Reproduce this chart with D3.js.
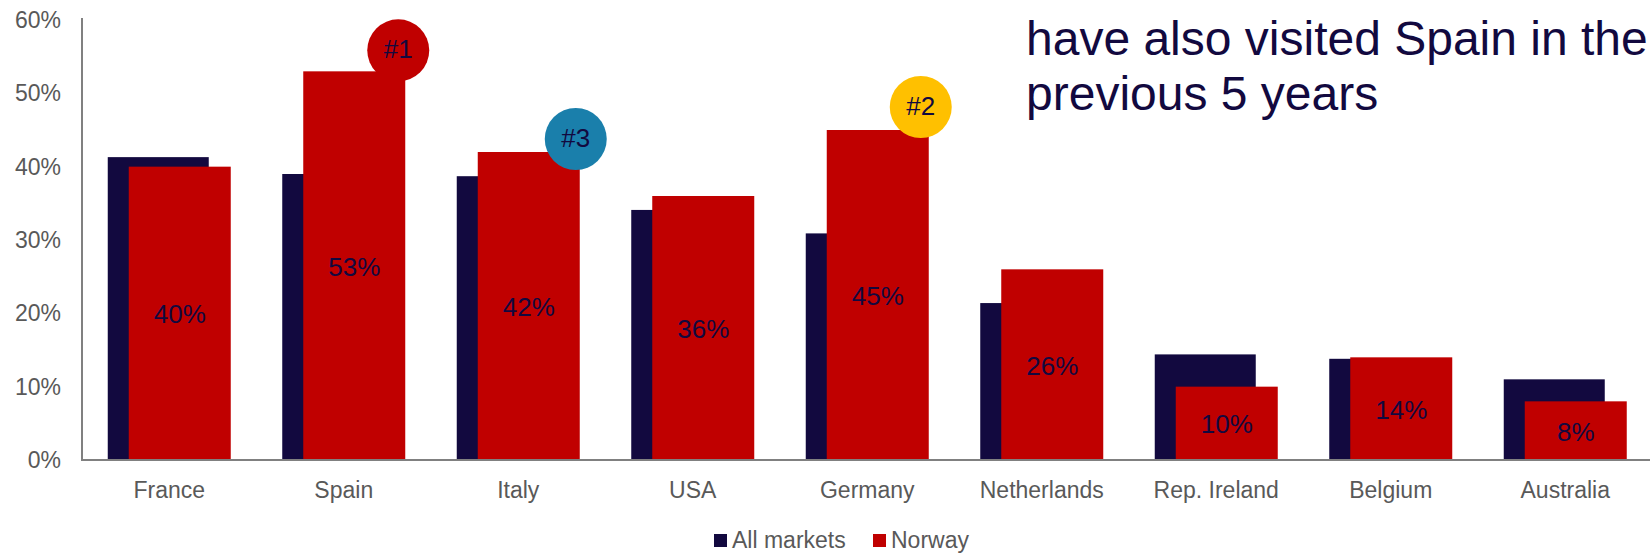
<!DOCTYPE html>
<html>
<head>
<meta charset="utf-8">
<script src="https://cdn.jsdelivr.net/npm/d3@7"></script>
<style>
  html, body { margin: 0; padding: 0; background: #ffffff; }
  svg { display: block; font-family: "Liberation Sans", Arial, sans-serif; }
</style>
</head>
<body>
<svg id="chart" width="1650" height="553"></svg>
<script>
// Destinations visited in the previous 5 years
const categories = ["France", "Spain", "Italy", "USA", "Germany", "Netherlands", "Rep. Ireland", "Belgium", "Australia"];
const allMarkets = [41.3, 39.0, 38.7, 34.1, 30.9, 21.4, 14.4, 13.8, 11.0];
const norway = [40, 53, 42, 36, 45, 26, 10, 14, 8];
const yTicks = [0, 10, 20, 30, 40, 50, 60];
const seriesNames = ["All markets", "Norway"];

// Ranking badges on the Norway bars
const rankCategories = ["Spain", "Germany", "Italy"];
const rankLabels = ["#1", "#2", "#3"];
const rankColors = ["#c00000", "#ffc000", "#1a7fab"];
const rankOffsets = [[-7, -21], [-8, -23], [-4, -13]];

const navy = "#12093f";
const red = "#c00000";
const grey = "#595959";
const axisGrey = "#808080";

const svg = d3.select("#chart");
const margin = { left: 82, right: 0, top: 20, bottom: 93 };
const W = 1650, H = 553;

const x = d3.scaleBand()
  .domain(categories)
  .range([margin.left, margin.left + 174.5 * categories.length])
  .paddingInner(0)
  .paddingOuter(0);

const y = d3.scaleLinear()
  .domain([0, 60])
  .range([H - margin.bottom, margin.top]);

const darkW = 101, redW = 102, shift = 21;
const groupW = shift + redW;
const groupX = c => x(c) + (x.bandwidth() - groupW) / 2;

// Y axis labels
const yAxis = d3.axisLeft(y)
  .tickValues(yTicks)
  .tickFormat(d => d + "%")
  .tickSize(0)
  .tickPadding(21);
const gy = svg.append("g")
  .attr("transform", `translate(${margin.left},0)`)
  .call(yAxis);
gy.select(".domain").remove();
gy.selectAll("text")
  .attr("fill", grey)
  .style("font-size", "23px")
  .style("font-family", "Liberation Sans, Arial, sans-serif");

// All markets bars (behind)
svg.append("g").selectAll("rect")
  .data(categories)
  .join("rect")
  .attr("x", c => groupX(c))
  .attr("width", darkW)
  .attr("y", (c, i) => y(allMarkets[i]))
  .attr("height", (c, i) => y(0) - y(allMarkets[i]))
  .attr("fill", navy);

// Norway bars (front)
svg.append("g").selectAll("rect")
  .data(categories)
  .join("rect")
  .attr("x", c => groupX(c) + shift)
  .attr("width", redW)
  .attr("y", (c, i) => y(norway[i]))
  .attr("height", (c, i) => y(0) - y(norway[i]))
  .attr("fill", red);

// Norway value labels, centred in each bar
svg.append("g").selectAll("text")
  .data(categories)
  .join("text")
  .attr("x", c => groupX(c) + shift + redW / 2)
  .attr("y", (c, i) => (y(norway[i]) + y(0)) / 2 + 3)
  .attr("text-anchor", "middle")
  .attr("dominant-baseline", "middle")
  .attr("fill", navy)
  .style("font-size", "26px")
  .text((c, i) => norway[i] + "%");

// Axis lines
svg.append("line")
  .attr("x1", margin.left).attr("x2", margin.left)
  .attr("y1", y(60) - 2).attr("y2", y(0) + 1)
  .attr("stroke", axisGrey).attr("stroke-width", 2);
svg.append("line")
  .attr("x1", margin.left - 1).attr("x2", W)
  .attr("y1", y(0)).attr("y2", y(0))
  .attr("stroke", axisGrey).attr("stroke-width", 2);

// Category labels
const xAxis = d3.axisBottom(x).tickSize(0).tickPadding(0);
const gx = svg.append("g")
  .attr("transform", `translate(0,${y(0)})`)
  .call(xAxis);
gx.select(".domain").remove();
gx.selectAll("text")
  .attr("dy", null)
  .attr("y", 38)
  .attr("fill", grey)
  .style("font-size", "23px")
  .style("font-family", "Liberation Sans, Arial, sans-serif");

// Ranking badges
const badges = svg.append("g").selectAll("g")
  .data(rankCategories)
  .join("g")
  .attr("transform", (c, i) => {
    const k = categories.indexOf(c);
    const cx = groupX(c) + shift + redW + rankOffsets[i][0];
    const cy = y(norway[k]) + rankOffsets[i][1];
    return `translate(${cx},${cy})`;
  });
badges.append("circle")
  .attr("r", 31)
  .attr("fill", (c, i) => rankColors[i]);
badges.append("text")
  .attr("text-anchor", "middle")
  .attr("dominant-baseline", "middle")
  .attr("y", 1)
  .attr("fill", navy)
  .style("font-size", "26px")
  .text((c, i) => rankLabels[i]);

// Headline text
const head = svg.append("text")
  .attr("x", 1026)
  .attr("fill", navy)
  .style("font-size", "48px");
head.append("tspan").attr("x", 1026).attr("y", 55).text("have also visited Spain in the");
head.append("tspan").attr("x", 1026).attr("y", 110).text("previous 5 years");

// Legend
const legendItems = [
  { name: seriesNames[0], color: navy, sx: 714, tx: 732 },
  { name: seriesNames[1], color: red, sx: 873, tx: 891 }
];
const lg = svg.append("g").selectAll("g").data(legendItems).join("g");
lg.append("rect")
  .attr("x", d => d.sx).attr("y", 534)
  .attr("width", 13).attr("height", 13)
  .attr("fill", d => d.color);
lg.append("text")
  .attr("x", d => d.tx).attr("y", 548)
  .attr("fill", grey)
  .style("font-size", "23px")
  .text(d => d.name);
</script>
</body>
</html>
